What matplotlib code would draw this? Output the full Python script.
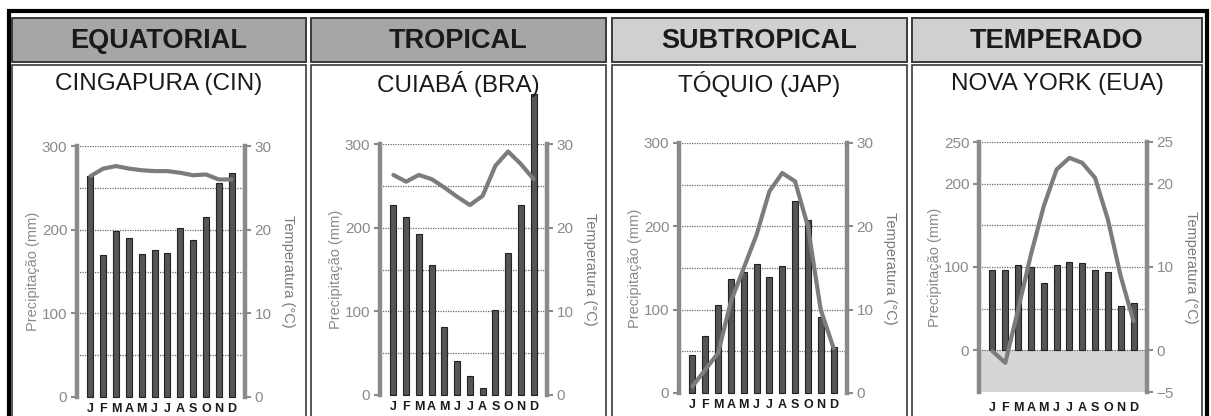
import matplotlib
matplotlib.use("Agg")
import matplotlib.pyplot as plt
from matplotlib.patches import Rectangle

plt.rcParams['font.family'] = ['Liberation Sans', 'DejaVu Sans']

months = ["J", "F", "M", "A", "M", "J", "J", "A", "S", "O", "N", "D"]
zones = ["EQUATORIAL", "TROPICAL", "SUBTROPICAL", "TEMPERADO"]
cities = ["CINGAPURA (CIN)", "CUIABÁ (BRA)", "TÓQUIO (JAP)", "NOVA YORK (EUA)"]

# precipitacao (mm)
prec_cin = [264, 170, 199, 190, 171, 176, 172, 202, 188, 215, 256, 268]
prec_bra = [227, 213, 193, 155, 81, 41, 23, 8, 102, 170, 227, 360]
prec_jap = [46, 68, 106, 137, 145, 155, 139, 152, 230, 208, 91, 55]
prec_eua = [97, 97, 102, 100, 81, 102, 106, 105, 97, 94, 53, 57]

# temperatura (C)
temp_cin = [26.4, 27.3, 27.6, 27.3, 27.1, 27.0, 27.0, 26.8, 26.5, 26.6, 26.0, 26.0]
temp_bra = [26.3, 25.5, 26.3, 25.8, 24.8, 23.7, 22.7, 23.8, 27.4, 29.1, 27.6, 25.8]
temp_jap = [0.8, 2.8, 4.8, 11.0, 15.0, 19.0, 24.2, 26.4, 25.4, 20.0, 10.0, 5.4]
temp_eua = [-0.1, -1.5, 4.9, 11.5, 17.3, 21.7, 23.1, 22.5, 20.7, 15.7, 8.9, 3.5]

precs = [prec_cin, prec_bra, prec_jap, prec_eua]
temps = [temp_cin, temp_bra, temp_jap, temp_eua]

W, H = 1211, 416
fig = plt.figure(figsize=(W / 100, H / 100), dpi=100)

def fx(x):
    return x / W

def fy(y):
    return 1 - y / H

def box(x0, y0, x1, y1, **kw):
    fig.add_artist(Rectangle((fx(x0), fy(y1)), (x1 - x0) / W, (y1 - y0) / H,
                             transform=fig.transFigure, zorder=-1, **kw))

# moldura externa preta
box(9, 10.5, 1207, 430, fill=False, edgecolor='black', linewidth=3)

panel_x = [(12, 306), (311, 606), (612, 907), (912, 1202)]
head_col = ['#a6a6a6', '#a6a6a6', '#d0d0d0', '#d0d0d0']
axes_px = [(77, 245, 146, 397), (380, 547, 144, 395),
           (679, 847, 143, 393), (979, 1147, 142, 392)]
gray = '#8a8a8a'

for i in range(4):
    x0, x1 = panel_x[i]
    box(x0, 18, x1, 62, facecolor=head_col[i], edgecolor='#3a3a3a', linewidth=1.4)
    box(x0, 65, x1, 440, facecolor='white', edgecolor='#3a3a3a', linewidth=1.2)
    fig.text(fx((x0 + x1) / 2), fy(41), zones[i], ha='center', va='center',
             fontsize=19.5, fontweight='bold', color='#1a1a1a')
    fig.text(fx((x0 + x1) / 2), fy(84), cities[i], ha='center', va='center',
             fontsize=17.5, color='#1a1a1a')

    L, R, T, B = axes_px[i]
    ax = fig.add_axes([fx(L), fy(B), (R - L) / W, (B - T) / H])
    ax.set_facecolor('none')
    ax2 = ax.twinx()

    if i == 3:
        ax.set_ylim(-50, 250)
        ax2.set_ylim(-5, 25)
        ax.set_yticks([0, 100, 200, 250])
        ax.set_yticks([0, 50, 100, 150, 200, 250], minor=True)
        ax2.set_yticks([-5, 0, 10, 20, 25])
        ax.axhspan(-50, 0, facecolor='#d6d6d6', edgecolor='none', zorder=0)
        xpad = 7
    else:
        ax.set_ylim(0, 300)
        ax2.set_ylim(0, 30)
        ax.set_yticks([0, 100, 200, 300])
        ax.set_yticks([50, 150, 250], minor=True)
        ax2.set_yticks([0, 10, 20, 30])
        xpad = 4

    ax.grid(which='both', axis='y', linestyle=(0, (1, 1)), color='#6a6a6a', linewidth=0.9)
    if i != 3:
        # sem linha de grade no zero
        ax.get_ygridlines()[0].set_visible(False)
    ax.set_axisbelow(True)

    ax.bar(range(12), precs[i], width=0.47, color='#555555', edgecolor='#222222',
           linewidth=0.8, clip_on=False, zorder=3)
    ax2.plot(range(12), temps[i], color='#7c7c7c', linewidth=3,
             solid_capstyle='round', solid_joinstyle='round', zorder=4)

    ax.set_xlim(-1.05, 12.05)
    ax.set_xticks(range(12))
    ax.set_xticklabels(months, fontsize=9, fontweight='bold', color='#1a1a1a')
    ax.tick_params(axis='x', length=0, pad=xpad)

    for a in (ax, ax2):
        for s in a.spines.values():
            s.set_visible(False)
    ax.spines['left'].set_visible(True)
    ax.spines['left'].set_color(gray)
    ax.spines['left'].set_linewidth(3.2)
    ax2.spines['right'].set_visible(True)
    ax2.spines['right'].set_color(gray)
    ax2.spines['right'].set_linewidth(3.2)

    ax.tick_params(axis='y', which='major', colors=gray, labelsize=11,
                   length=4, width=1.5, pad=3)
    ax.tick_params(axis='y', which='minor', length=0)
    ax2.tick_params(axis='y', colors=gray, labelsize=11, length=4, width=1.5, pad=3)
    ax2.set_yticklabels([('\u2212' + str(-v)) if v < 0 else str(v)
                         for v in ax2.get_yticks().astype(int)])

    ax.set_ylabel('Precipitação (mm)', color=gray, fontsize=10.5, labelpad=1)
    ax2.set_ylabel('Temperatura (°C)', color='#7a7a7a', fontsize=10.5, rotation=270,
                   labelpad=17)

fig.savefig('out.png', dpi=100)
